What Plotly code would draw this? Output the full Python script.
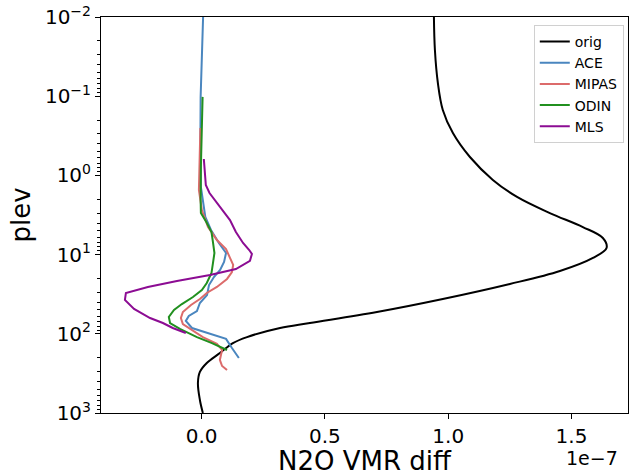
import plotly.graph_objects as go

# N2O VMR difference profiles (x in units of 1e-7), pressure levels in hPa
orig_p = [0.0100, 0.0261, 0.0681, 0.149, 0.292, 0.586, 1.14, 1.87, 2.99, 4.49, 6.17,
          8.26, 11.0, 16.1, 23.5, 36.4, 53.1, 73.1, 84.5, 110, 131, 175, 234, 303,
          418, 685, 1000]
orig_v = [0.942, 0.946, 0.958, 0.978, 1.019, 1.088, 1.181, 1.279, 1.412, 1.546, 1.627,
          1.642, 1.587, 1.453, 1.250, 0.978, 0.711, 0.439, 0.318, 0.184, 0.127, 0.074,
          0.021, -0.007, -0.015, -0.007, 0.005]

ace_p = [0.0100, 0.0320, 0.102, 0.357, 1.40, 2.05, 3.35, 4.89, 7.14, 9.55, 12.4, 15.6,
         19.2, 24.2, 32.4, 40.8, 51.5, 59.6, 68.9, 84.5, 97.7, 116, 151, 202]
ace_v = [0.006, 0.000, -0.004, -0.005, -0.003, 0.005, 0.015, 0.038, 0.070, 0.099, 0.091,
         0.075, 0.050, 0.030, 0.022, -0.007, -0.019, -0.052, -0.064, -0.039, 0.021,
         0.099, 0.123, 0.151]

mipas_p = [0.252, 0.640, 1.53, 2.74, 4.49, 6.55, 8.49, 11.0, 13.5, 16.6, 20.3, 25.6,
           30.5, 36.4, 43.3, 53.1, 63.2, 75.2, 89.5, 110, 134, 160, 214, 255, 287]
mipas_v = [-0.005, -0.009, -0.011, 0.001, 0.026, 0.062, 0.099, 0.115, 0.128, 0.123,
           0.103, 0.062, 0.021, -0.007, -0.043, -0.076, -0.084, -0.076, -0.039, 0.005,
           0.062, 0.083, 0.074, 0.083, 0.103]

odin_p = [0.102, 0.292, 0.784, 2.05, 2.99, 3.87, 5.19, 6.94, 9.55, 12.8, 17.1, 22.8,
          28.0, 34.3, 42.1, 50.0, 61.4, 73.1, 86.9, 110, 131, 160]
odin_v = [0.004, 0.000, -0.003, -0.004, -0.003, 0.019, 0.040, 0.046, 0.052, 0.046,
          0.040, 0.021, 0.001, -0.035, -0.080, -0.112, -0.133, -0.128, -0.088, -0.019,
          0.042, 0.103]

mls_p = [0.621, 0.989, 1.32, 1.67, 2.50, 3.66, 5.19, 7.14, 8.75, 9.82, 12.0, 15.2,
         18.1, 21.5, 25.6, 30.5, 37.4, 48.6, 63.2, 73.1, 84.5, 97.7]
mls_v = [0.009, 0.013, 0.017, 0.032, 0.074, 0.115, 0.139, 0.168, 0.193, 0.204, 0.196,
         0.139, 0.034, -0.100, -0.218, -0.307, -0.311, -0.274, -0.209, -0.157, -0.117,
         -0.064]

x_ticks = [0.0, 0.5, 1.0, 1.5]
x_tick_labels = ["0.0", "0.5", "1.0", "1.5"]

series = [
    ("orig", orig_v, orig_p, "black", "spline"),
    ("ACE", ace_v, ace_p, "#4a86bf", "linear"),
    ("MIPAS", mipas_v, mipas_p, "#dc6b6b", "linear"),
    ("ODIN", odin_v, odin_p, "#21901f", "linear"),
    ("MLS", mls_v, mls_p, "#8c0c93", "linear"),
]

fig = go.Figure()
for name, xv, pv, color, shape in series:
    fig.add_trace(go.Scatter(
        x=xv, y=pv, mode="lines", name=name,
        line=dict(color=color, width=2, shape=shape),
    ))

minor_vals = [m * 10.0 ** k for k in range(-2, 3) for m in range(2, 10)]

fig.update_layout(
    width=631, height=476,
    margin=dict(l=101, r=3, t=17, b=63),
    paper_bgcolor="white", plot_bgcolor="white",
    font=dict(family="DejaVu Sans", color="black"),
    showlegend=True,
    legend=dict(
        x=0.992, y=0.98, xanchor="right", yanchor="top",
        bgcolor="rgba(255,255,255,0.8)", bordercolor="#d0d0d0", borderwidth=1,
        font=dict(size=14, family="DejaVu Sans"),
        itemwidth=30,
    ),
    xaxis=dict(
        range=[-0.408, 1.729],
        tickmode="array", tickvals=x_ticks, ticktext=x_tick_labels,
        ticks="outside", ticklen=5, tickwidth=1, tickcolor="black",
        showline=True, linecolor="black", linewidth=1, mirror=True,
        showgrid=False, zeroline=False,
        tickfont=dict(size=20),
        title=dict(text="N2O VMR diff", font=dict(size=26), standoff=2),
    ),
    yaxis=dict(
        type="log", range=[3, -2],
        tickmode="array", tickvals=[1e-2, 1e-1, 1e0, 1e1, 1e2, 1e3],
        ticktext=["10<sup>−2</sup>", "10<sup>−1</sup>", "10<sup>0</sup>",
                  "10<sup>1</sup>", "10<sup>2</sup>", "10<sup>3</sup>"],
        ticks="outside", ticklen=5, tickwidth=1, tickcolor="black",
        minor=dict(tickmode="array", tickvals=minor_vals, ticks="outside",
                   ticklen=3, tickwidth=0.8, tickcolor="black", showgrid=False),
        showline=True, linecolor="black", linewidth=1, mirror=True,
        showgrid=False, zeroline=False,
        tickfont=dict(size=20),
        title=dict(text="plev", font=dict(size=26), standoff=6),
    ),
    annotations=[dict(
        text="1e−7", xref="paper", yref="paper", x=0.985, y=-0.081,
        xanchor="right", yanchor="top", showarrow=False,
        font=dict(size=19, family="DejaVu Sans"),
    )],
)

fig.write_html("out.html")
